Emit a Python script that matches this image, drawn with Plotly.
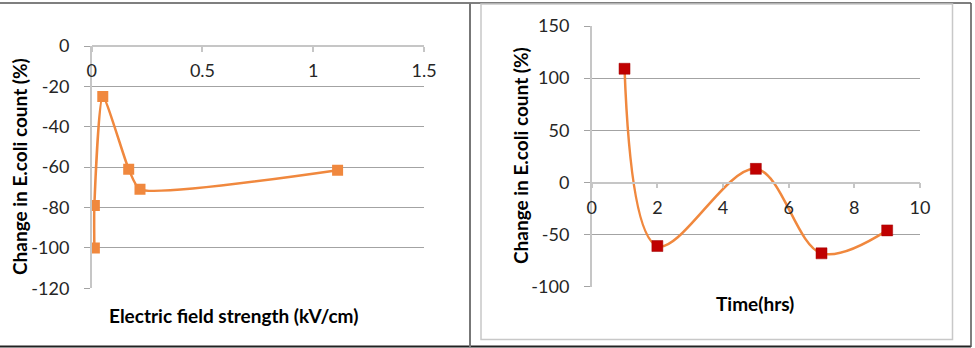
import plotly.graph_objects as go

# Left chart data
field_strength = [0.012, 0.012, 0.05, 0.167, 0.218, 1.11]
change_field = [-100, -79, -25, -61, -71, -61.5]
left_xticks = [0, 0.5, 1, 1.5]
left_xlabels = ["0", "0.5", "1", "1.5"]
left_yticks = [0, -20, -40, -60, -80, -100, -120]
left_ylabels = ["0", "-20", "-40", "-60", "-80", "-100", "-120"]

# Right chart data
time_hrs = [1, 2, 5, 7, 9]
change_time = [109, -61, 13, -68, -46]
right_xticks = [0, 2, 4, 6, 8, 10]
right_yticks = [150, 100, 50, 0, -50, -100]
right_ylabels = ["150", "100", "50", "0", "-50", "-100"]

W, H = 975, 348
ORANGE = "#F0883E"
GRID = "#a3a3a3"
AXIS = "#c6c6c6"
FONT = "Lato"
TICKFONT = dict(family=FONT, size=18, color="#262626")

def px_x(p):
    return p / W

def px_y(p):
    return 1 - p / H

fig = go.Figure()

fig.add_trace(go.Scatter(
    x=field_strength, y=change_field, mode="lines+markers",
    line=dict(color=ORANGE, width=2.5, shape="spline", smoothing=0.55),
    marker=dict(symbol="square", size=11, color=ORANGE),
    xaxis="x", yaxis="y", showlegend=False))

fig.add_trace(go.Scatter(
    x=time_hrs, y=change_time, mode="lines+markers",
    line=dict(color=ORANGE, width=2.5, shape="spline", smoothing=1.0),
    marker=dict(symbol="square", size=11, color="#C00000",
                line=dict(color="#a00000", width=0.5)),
    xaxis="x2", yaxis="y2", showlegend=False))

# Left panel geometry
l_dom_x = [px_x(91.7), px_x(424)]
l_dom_y = [px_y(288.3), px_y(46)]
# Right panel geometry
r_dom_x = [px_x(591.7), px_x(920)]
r_dom_y = [px_y(286.7), px_y(26)]
r_zero = px_y(182.7)

fig.update_layout(
    width=W, height=H, margin=dict(l=0, r=0, t=0, b=0, autoexpand=False),
    paper_bgcolor="white", plot_bgcolor="white",
    xaxis=dict(domain=l_dom_x, range=[0, 1.5], tickvals=left_xticks,
               ticktext=left_xlabels, automargin=False,
               anchor="free", position=l_dom_y[1], side="bottom",
               showline=True, linecolor=AXIS, linewidth=1.5,
               ticks="outside", ticklen=5, tickcolor=AXIS, tickwidth=1.5,
               showgrid=False, zeroline=False, tickfont=TICKFONT,
               ticklabelstandoff=4),
    yaxis=dict(domain=l_dom_y, range=[-120, 0], tickvals=left_yticks,
               ticktext=left_ylabels, anchor="x", automargin=False,
               showline=True, linecolor=AXIS, linewidth=1.5,
               ticks="outside", ticklen=6, tickcolor=GRID,
               showgrid=True, gridcolor=GRID, gridwidth=1, zeroline=False,
               tickfont=TICKFONT, ticklabelstandoff=11),
    xaxis2=dict(domain=r_dom_x, range=[0, 10], tickvals=right_xticks,
                automargin=False,
                anchor="free", position=r_zero, side="bottom",
                showline=True, linecolor=AXIS, linewidth=1.5,
                ticks="outside", ticklen=5, tickcolor=AXIS, tickwidth=1.5,
                showgrid=False, zeroline=False, tickfont=TICKFONT,
                ticklabelstandoff=4),
    yaxis2=dict(domain=r_dom_y, range=[-100, 150], tickvals=right_yticks,
                ticktext=right_ylabels, anchor="x2", automargin=False,
                showline=True, linecolor=AXIS, linewidth=1.5,
                ticks="outside", ticklen=6, tickcolor=GRID,
                showgrid=True, gridcolor=GRID, gridwidth=1, zeroline=False,
                tickfont=TICKFONT, ticklabelstandoff=11),
)

TITLEFONT = dict(family=FONT, size=19, color="black", weight="bold")
annos = [
    dict(text="Electric field strength (kV/cm)", x=px_x(233.5), y=px_y(315)),
    dict(text="Change in E.coli count (%)", x=px_x(20), y=px_y(167), textangle=-90),
    dict(text="Time(hrs)", x=px_x(755), y=px_y(303)),
    dict(text="Change in E.coli count (%)", x=px_x(520), y=px_y(156), textangle=-90),
]
for a in annos:
    fig.add_annotation(xref="paper", yref="paper", showarrow=False,
                       xanchor="center", yanchor="middle", font=TITLEFONT, **a)

# Frame lines (table-like border)
DARK = "#555555"
shapes = [
    dict(type="line", x0=0, x1=px_x(971), y0=px_y(3), y1=px_y(3), line=dict(color=DARK, width=1.5)),
    dict(type="line", x0=0, x1=px_x(971), y0=px_y(346.5), y1=px_y(346.5), line=dict(color="#222222", width=2)),
    dict(type="line", x0=px_x(470), x1=px_x(470), y0=px_y(3), y1=px_y(347), line=dict(color="#777777", width=2)),
    dict(type="line", x0=px_x(971), x1=px_x(971), y0=px_y(3), y1=px_y(347), line=dict(color=DARK, width=1.5)),
    dict(type="rect", x0=px_x(481), x1=px_x(952.5), y0=px_y(339.5), y1=px_y(4), line=dict(color="#c8c8c8", width=1.5)),
]
for s in shapes:
    fig.add_shape(xref="paper", yref="paper", layer="above", **s)

fig.write_html("out.html")
